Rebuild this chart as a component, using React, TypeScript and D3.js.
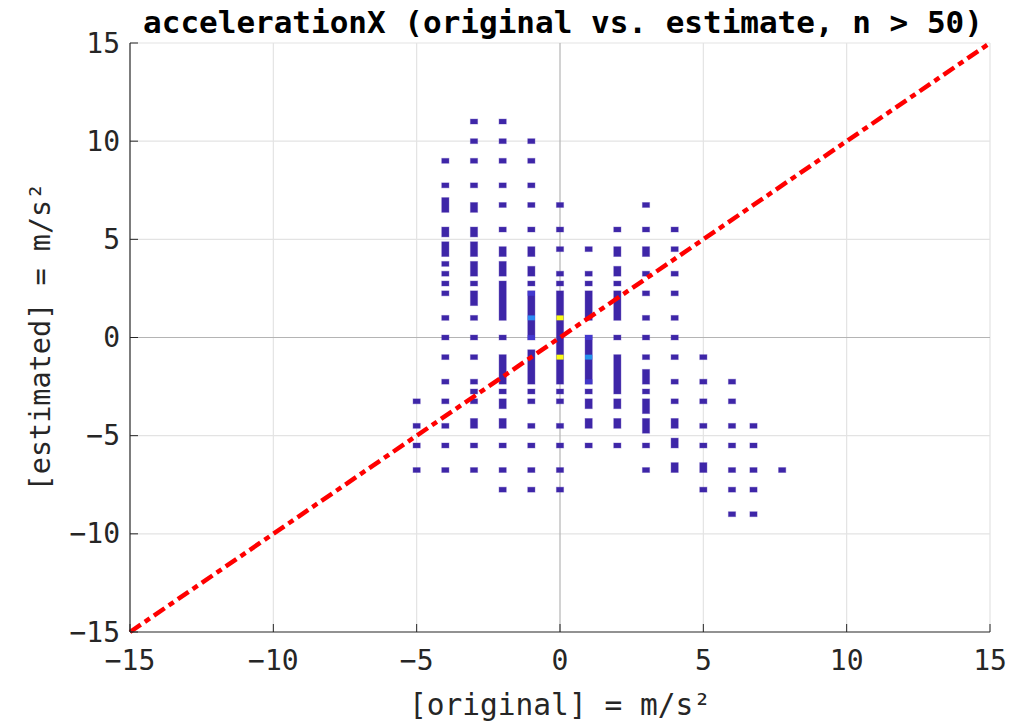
import React from "react";
import * as d3 from "d3";

// ---- data (bin centres, bins are 0.25 x 0.25 m/s^2) ----
const xTicks = [-15, -10, -5, 0, 5, 10, 15];
const yTicks = [-15, -10, -5, 0, 5, 10, 15];

const colX = [-5, -4, -3, -2, -1, 0, 1, 2, 3, 4, 5, 6, 6.75, 7.75];

// each column: segments [topBin, bottomBin] of estimated values with n > 50
const colM5 = [[-3.25, -3.25], [-4.5, -4.5], [-5.5, -5.5], [-6.75, -6.75]];
const colM4 = [[9, 9], [7.75, 7.75], [7, 6.5], [5.5, 5.25], [4.75, 4.25], [3.75, 3.75], [3.25, 3.25], [2.75, 2.75], [2.25, 2.25], [1, 1], [0, 0], [-1, -1], [-2.25, -2.25], [-3.25, -3.25], [-4.5, -4.5], [-5.5, -5.5], [-6.75, -6.75]];
const colM3 = [[11, 11], [10, 10], [9, 9], [7.75, 7.75], [6.75, 6.5], [5.5, 5.25], [4.75, 4.25], [3.75, 3.25], [2.75, 2.75], [2.25, 1.75], [1, 1], [0, 0], [-1, -1], [-2.25, -2.25], [-2.75, -2.75], [-3.25, -3.25], [-4.25, -4.5], [-5.5, -5.5], [-6.75, -6.75]];
const colM2 = [[11, 11], [10, 10], [9, 9], [7.75, 7.75], [6.75, 6.75], [5.5, 5.5], [4.5, 4.25], [3.75, 3.25], [2.75, 1], [0, 0], [-1, -2.25], [-2.75, -2.75], [-3.25, -3.5], [-4.25, -4.5], [-5.5, -5.5], [-6.75, -6.75], [-7.75, -7.75]];
const colM1 = [[10, 10], [9, 9], [7.75, 7.75], [6.75, 6.75], [5.5, 5.5], [4.5, 4.25], [3.5, 3.25], [2.75, 2.75], [2.25, 0], [-0.75, -2.25], [-2.75, -2.75], [-3.25, -3.25], [-4.5, -4.5], [-5.5, -5.5], [-6.75, -6.75], [-7.75, -7.75]];
const colP0 = [[6.75, 6.75], [5.5, 5.5], [4.5, 4.5], [3.25, 3.25], [2.75, 2.75], [2.25, -2.25], [-2.75, -2.75], [-3.25, -3.25], [-4.5, -4.5], [-5.5, -5.5], [-6.75, -6.75], [-7.75, -7.75]];
const colP1 = [[4.5, 4.5], [3.25, 3.25], [2.75, 2.75], [2.25, 1], [0, -2.25], [-2.75, -2.75], [-3.25, -3.5], [-4.25, -4.5], [-5.5, -5.5]];
const colP2 = [[5.5, 5.5], [4.5, 4.25], [3.5, 3.25], [2.75, 2.75], [2.25, 1], [0, 0], [-1, -2.75], [-3.25, -3.5], [-4.25, -4.5], [-5.5, -5.5]];
const colP3 = [[6.75, 6.75], [5.5, 5.5], [4.5, 4.25], [3.25, 3.25], [2.25, 2.25], [1, 1], [0, 0], [-1, -1], [-1.75, -2.25], [-2.75, -2.75], [-3.25, -3.75], [-4.25, -4.75], [-5.5, -5.5], [-6.75, -6.75]];
const colP4 = [[5.5, 5.5], [4.5, 4.5], [3.25, 3.25], [2.25, 2.25], [1, 1], [0, 0], [-1, -1], [-2.25, -2.25], [-3.25, -3.25], [-4.25, -4.5], [-5.25, -5.5], [-6.5, -6.75]];
const colP5 = [[-1, -1], [-2.25, -2.25], [-3.25, -3.25], [-4.5, -4.5], [-5.5, -5.5], [-6.5, -6.75], [-7.75, -7.75]];
const colP6 = [[-2.25, -2.25], [-3.25, -3.25], [-4.5, -4.5], [-5.5, -5.5], [-6.75, -6.75], [-7.75, -7.75], [-9, -9]];
const colP675 = [[-4.5, -4.5], [-5.5, -5.5], [-6.75, -6.75], [-7.75, -7.75], [-9, -9]];
const colP775 = [[-6.75, -6.75]];

const columns = [colM5, colM4, colM3, colM2, colM1, colP0, colP1, colP2, colP3, colP4, colP5, colP6, colP675, colP775];

// bins with higher counts: [x, y, normalised level]
const hotBins = [
  [-1, 2.25, 0.06], [-1, 1, 0.22], [-1, 0, 0.06],
  [0, 1, 1.0], [0, -1, 1.0],
  [1, 0, 0.06], [1, -1, 0.25], [1, -2.25, 0.05],
];

const parulaStops = [0, 0.111, 0.222, 0.333, 0.444, 0.556, 0.667, 0.778, 0.889, 1];
const parulaColors = ["#3E26A8", "#4749F0", "#2B8AF3", "#14AFD3", "#1EBCAE", "#55C47D", "#A5BE55", "#D9BA34", "#FCC63A", "#F9FB15"];

const BIN = 0.25;

export default function App() {
  const W = 1024, H = 725;
  const x = d3.scaleLinear().domain([-15, 15]).range([130, 990]);
  const y = d3.scaleLinear().domain([-15, 15]).range([632, 43]);
  const color = d3.scaleLinear<string>().domain(parulaStops).range(parulaColors).interpolate(d3.interpolateRgb);

  const font = "'DejaVu Sans Mono', monospace";
  const axisColor = "#262626";
  const gridColor = "#e3e3e3";
  const zeroColor = "#b4b4b4";
  const tick = 8;

  const cells: any[] = [];
  columns.forEach((segs, ci) => {
    const xc = colX[ci];
    segs.forEach(([t, b], si) => {
      cells.push(
        <rect key={`c${ci}-${si}`} x={x(xc - BIN / 2)} width={x(BIN) - x(0)}
          y={y(t + BIN / 2)} height={y(b - BIN / 2) - y(t + BIN / 2)}
          fill={color(0)} stroke={color(0)} strokeOpacity={0.35} strokeWidth={1} />
      );
    });
  });
  const hot = hotBins.map(([xc, yc, lv], i) => (
    <rect key={`h${i}`} x={x(xc - BIN / 2)} width={x(BIN) - x(0)}
      y={y(yc + BIN / 2)} height={y(yc - BIN / 2) - y(yc + BIN / 2)} fill={color(lv)} />
  ));

  const line = d3.line<number>().x((d) => x(d)).y((d) => y(d));

  return (
    <div>
      <style>{`body{margin:0;background:#fff}`}</style>
      <svg width={W} height={H} style={{ display: "block" }}>
        <rect width={W} height={H} fill="#fff" />
        {/* grid */}
        {xTicks.filter((t) => t !== 0 && t !== -15).map((t) => (
          <line key={`gx${t}`} x1={x(t)} x2={x(t)} y1={y(-15)} y2={y(15)} stroke={gridColor} strokeWidth={1.2} />
        ))}
        {yTicks.filter((t) => t !== 0 && t !== -15).map((t) => (
          <line key={`gy${t}`} y1={y(t)} y2={y(t)} x1={x(-15)} x2={x(15)} stroke={gridColor} strokeWidth={1.2} />
        ))}
        {/* zero lines */}
        <line x1={x(0)} x2={x(0)} y1={y(-15)} y2={y(15)} stroke={zeroColor} strokeWidth={1.2} />
        <line y1={y(0)} y2={y(0)} x1={x(-15)} x2={x(15)} stroke={zeroColor} strokeWidth={1.2} />
        {/* histogram cells */}
        <g>{cells}{hot}</g>
        {/* identity line */}
        <path d={line([-15, 15]) || ""} stroke="#ff0000" strokeWidth={4.5} fill="none" strokeDasharray="13,5,6,5" />
        {/* axes */}
        <line x1={x(-15)} x2={x(15)} y1={y(-15)} y2={y(-15)} stroke={axisColor} strokeWidth={1.2} />
        <line x1={x(-15)} x2={x(-15)} y1={y(-15)} y2={y(15)} stroke={axisColor} strokeWidth={1.2} />
        {xTicks.map((t) => (
          <g key={`xt${t}`}>
            <line x1={x(t)} x2={x(t)} y1={y(-15)} y2={y(-15) - tick} stroke={axisColor} />
            <text x={x(t)} y={y(-15) + 28} textAnchor="middle" dominantBaseline="central"
              fontFamily={font} fontSize={28} fill={axisColor}>{t < 0 ? `\u2212${-t}` : `${t}`}</text>
          </g>
        ))}
        {yTicks.map((t) => (
          <g key={`yt${t}`}>
            <line x1={x(-15)} x2={x(-15) + tick} y1={y(t)} y2={y(t)} stroke={axisColor} />
            <text x={x(-15) - 10} y={y(t)} textAnchor="end" dominantBaseline="central"
              fontFamily={font} fontSize={28} fill={axisColor}>{t < 0 ? `\u2212${-t}` : `${t}`}</text>
          </g>
        ))}
        {/* labels */}
        <text x={560} y={705} textAnchor="middle" dominantBaseline="central" fontFamily={font} fontSize={29.5} fill={axisColor}>[original] = m/s²</text>
        <text transform={`translate(40,337) rotate(-90)`} textAnchor="middle" dominantBaseline="central" fontFamily={font} fontSize={28.5} fill={axisColor}>[estimated] = m/s²</text>
        <text x={563} y={22} textAnchor="middle" dominantBaseline="central" fontFamily={font} fontSize={31} fontWeight="bold" fill="#000">accelerationX (original vs. estimate, n &gt; 50)</text>
      </svg>
    </div>
  );
}
